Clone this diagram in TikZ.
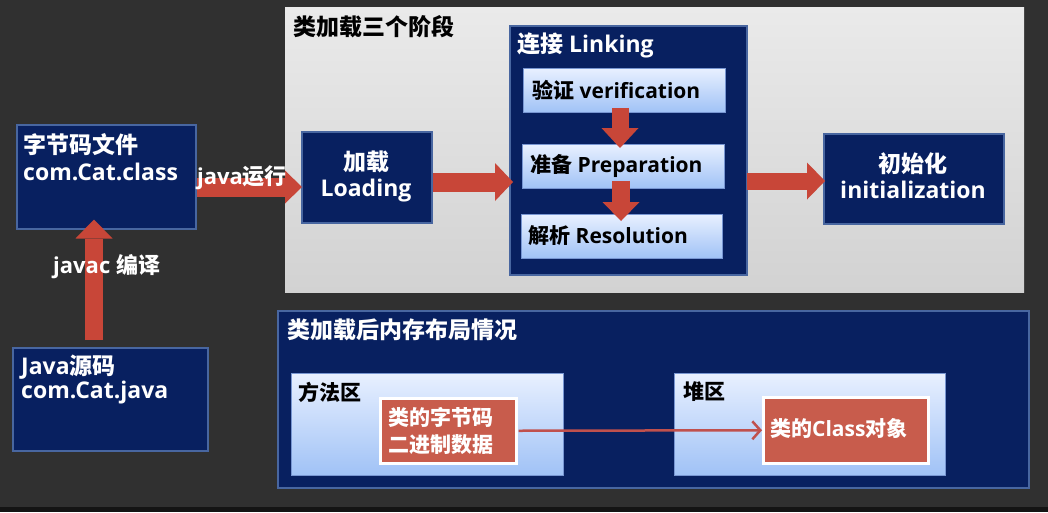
\documentclass[tikz,border=0pt]{standalone}
\usepackage{fontspec}
\setmainfont{Open Sans}
\newfontfamily\cjkfam{Noto Sans CJK SC}
\usetikzlibrary{arrows.meta}
\newcommand\zhtxt[1]{{\cjkfam\bfseries #1}}
\definecolor{bgc}{RGB}{48,48,48}
\definecolor{navyfill}{RGB}{8,32,96}
\definecolor{navyborder}{RGB}{72,102,160}
\definecolor{lbtop}{RGB}{232,240,255}
\definecolor{lbbot}{RGB}{160,194,246}
\definecolor{lbborder}{RGB}{120,150,210}
\definecolor{redfill}{RGB}{200,92,76}
\definecolor{arrowred}{RGB}{200,70,56}
\definecolor{thinred}{RGB}{192,80,77}
\definecolor{pantop}{RGB}{234,234,234}
\definecolor{panbot}{RGB}{210,210,210}
\tikzset{
  navy/.style={draw=navyborder, line width=1.5pt, fill=navyfill, inner sep=0pt, anchor=north west},
  lightbox/.style={draw=lbborder, line width=0.8pt, top color=lbtop, bottom color=lbbot, inner sep=0pt, anchor=north west},
  redbox/.style={draw=white, line width=2.5pt, fill=redfill, inner sep=0pt, anchor=north west},
  wtxt/.style={text=white, inner sep=0pt, font=\bfseries\fontsize{23}{28}\selectfont},
  btxt/.style={text=black, inner sep=0pt, font=\bfseries\fontsize{21}{28}\selectfont},
  bigtitle/.style={inner sep=0pt, font=\bfseries\fontsize{23}{28}\selectfont},
  bigarrow/.style n args={3}{draw=arrowred, line width=#1, -{Triangle[width=#2,length=#3,line width=0pt]}},
  thinarrow/.style={draw=thinred, line width=2.5pt, -{Straight Barb[length=8pt,width=18pt]}}
}
\begin{document}
\begin{tikzpicture}[x=1pt,y=-1pt]
\useasboundingbox (0,0) rectangle (1048,512);
\fill[bgc] (0,0) rectangle (1048,512);
\fill[black!92] (0,507) rectangle (1048,512);
% top panel
\shade[top color=pantop, bottom color=panbot] (285,7) rectangle (1024,292);
\node[bigtitle, text=black, anchor=west] (t1) at (293,27) {\zhtxt{类加载三个阶段}};
% linking
\node[navy, minimum width=237pt, minimum height=249pt] (link) at (509,25) {};
\node[wtxt, anchor=west] (linkt) at (517,45) {\zhtxt{连接} Linking};
\node[lightbox, minimum width=202pt, minimum height=44pt] (ver) at (523,68) {};
\node[btxt, anchor=west] (vert) at (532,90) {\zhtxt{验证} verification};
\node[lightbox, minimum width=202pt, minimum height=44pt] (prep) at (522,144) {};
\node[btxt, anchor=west] (prept) at (530,166) {\zhtxt{准备} Preparation};
\node[lightbox, minimum width=201pt, minimum height=44pt] (res) at (521,214) {};
\node[btxt, anchor=west] (rest) at (528,236) {\zhtxt{解析} Resolution};
\coordinate (xd1) at (620,0);
\coordinate (xd2) at (621,0);
\draw[bigarrow={17pt}{37pt}{20pt}, shorten <=-5pt, shorten >=-4pt] (ver.south -| xd1) -- (prep.north -| xd1);
\draw[bigarrow={18pt}{37pt}{19pt}, shorten <=-8pt, shorten >=-7pt] (prep.south -| xd2) -- (res.north -| xd2);
% loading
\node[navy, minimum width=130pt, minimum height=91pt] (load) at (301,131) {};
\node[wtxt] (loadt1) at (366,162) {\zhtxt{加载}};
\node[wtxt] (loadt2) at (366,191) {Loading};
% init
\node[navy, minimum width=180pt, minimum height=90pt] (init) at (823,133) {};
\node[wtxt] (initt1) at (913,164) {\zhtxt{初始化}};
\node[wtxt] (initt2) at (913,190) {initialization};
% bytecode file
\node[navy, minimum width=179pt, minimum height=104pt] (bc) at (16,124) {};
\node[wtxt, anchor=west] (bct1) at (23,145) {\zhtxt{字节码文件}};
\node[wtxt, anchor=west] (bct2) at (23,172) {com.Cat.class};
% java source
\node[navy, minimum width=195pt, minimum height=103pt] (src) at (12,347) {};
\node[wtxt, anchor=west] (srct1) at (21,367) {Java\zhtxt{源码}};
\node[wtxt, anchor=west] (srct2) at (21,393) {com.Cat.java};
% big arrows
\coordinate (ya) at (0,187);
\coordinate (yb) at (0,182);
\coordinate (yc) at (0,181);
\coordinate (xu) at (94,0);
\draw[bigarrow={19pt}{33pt}{17pt}, shorten >=-1pt] (bc.east |- ya) -- (load.west |- ya);
\node[wtxt, font=\bfseries\fontsize{22}{28}\selectfont] (runlbl) at (242,178) {java\zhtxt{运行}};
\draw[bigarrow={19pt}{38pt}{18pt}, shorten >=-4pt] (load.east |- yb) -- (link.west |- yb);
\draw[bigarrow={17pt}{37pt}{18pt}, shorten >=-2pt, shorten <=-1pt] (link.east |- yc) -- (init.west |- yc);
\draw[bigarrow={18pt}{37pt}{19pt}, shorten <=7pt, shorten >=-10pt] (src.north -| xu) -- (bc.south -| xu);
\node[wtxt, anchor=west, font=\bfseries\fontsize{22}{28}\selectfont] (javac) at (53,267) {javac \zhtxt{编译}};
% bottom panel
\node[navy, minimum width=751pt, minimum height=177pt] (mem) at (277,310) {};
\node[bigtitle, text=white, anchor=west] (memt) at (287,330) {\zhtxt{类加载后内存布局情况}};
\node[lightbox, minimum width=272pt, minimum height=102pt] (meth) at (291,373) {};
\node[btxt, anchor=west] (metht) at (298,392) {\zhtxt{方法区}};
\node[lightbox, minimum width=271pt, minimum height=102pt] (heap) at (674,373) {};
\node[btxt, anchor=west] (heapt) at (683,392) {\zhtxt{堆区}};
\node[redbox, minimum width=136pt, minimum height=65pt] (r1) at (379,397) {};
\node[wtxt, anchor=west, font=\bfseries\fontsize{21}{28}\selectfont] (r1a) at (388,417) {\zhtxt{类的字节码}};
\node[wtxt, anchor=west, font=\bfseries\fontsize{21}{28}\selectfont] (r1b) at (388,445) {\zhtxt{二进制数据}};
\node[redbox, minimum width=165pt, minimum height=66pt] (r2) at (762,396) {};
\node[wtxt, anchor=west, font=\bfseries\fontsize{21}{28}\selectfont] (r2t) at (770,428) {\zhtxt{类的}Class\zhtxt{对象}};
\draw[thinarrow, shorten <=1pt] (r1.east) -- (r2.west);
\end{tikzpicture}
\end{document}
